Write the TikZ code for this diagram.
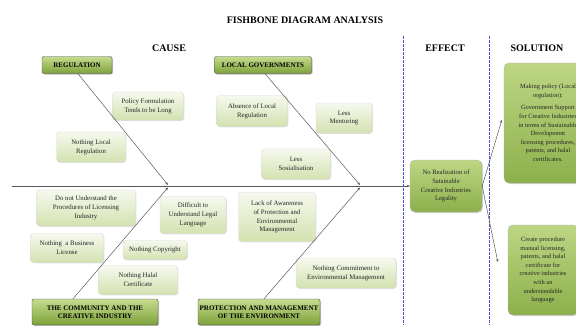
\documentclass[tikz,border=0pt]{standalone}
\usepackage{fontspec}
\setmainfont{Liberation Serif}
\usetikzlibrary{arrows.meta, shadows, positioning}

\definecolor{hdrlight}{HTML}{C6DC8F}
\definecolor{hdrdark}{HTML}{7DA13A}
\definecolor{causelight}{HTML}{F6F9EE}
\definecolor{causedark}{HTML}{D3E2B0}
\definecolor{efflight}{HTML}{BDD684}
\definecolor{effdark}{HTML}{8DB04B}
\definecolor{dashblue}{HTML}{5050D8}

\tikzset{
  header/.style={draw=black!70, rounded corners=2pt, top color=hdrlight, bottom color=hdrdark,
    font=\fontsize{7}{8.5}\selectfont\bfseries, inner sep=1pt,
    drop shadow={shadow xshift=1pt, shadow yshift=-1pt, opacity=0.5}},
  cause/.style={draw=black!15, rounded corners=3pt, top color=causelight, bottom color=causedark,
    font=\fontsize{6.8}{8.8}\selectfont, text=black!85, inner sep=1pt,
    drop shadow={shadow xshift=0.8pt, shadow yshift=-0.8pt, opacity=0.25}},
  effectbox/.style={draw=black!30, rounded corners=5pt, top color=efflight, bottom color=effdark,
    font=\fontsize{6.6}{8.8}\selectfont, text=black!85, inner sep=1pt,
    drop shadow={shadow xshift=1pt, shadow yshift=-1pt, opacity=0.35}},
  heading/.style={font=\fontsize{10}{12}\selectfont\bfseries},
  bone/.style={draw=black!65, line width=0.5pt, -{Stealth[length=3pt, width=2.5pt]}},
  divider/.style={draw=dashblue, line width=1pt, dash pattern=on 2.5pt off 1.5pt}
}

\begin{document}
\begin{tikzpicture}[x=1pt, y=-1pt, align=center]
\useasboundingbox (0,0) rectangle (576,325);

% titles
\node (title) [heading] at (305,20) {FISHBONE DIAGRAM ANALYSIS};
\node (causehd) [heading] at (169,48) {CAUSE};
\node (effecthd) [heading] at (445,48) {EFFECT};
\node (solhd) [heading] at (537,48) {SOLUTION};

% dividers
\coordinate (d1top) at (403,36);
\coordinate (d1bot) at (403,325);
\coordinate (d2top) at (489,36);
\coordinate (d2bot) at (489,325);
\draw[divider] (d1top) -- (d1bot);
\draw[divider] (d2top) -- (d2bot);

% main categories
\node (reg) [header, minimum width=70pt, minimum height=17pt] at (77,65) {REGULATION};
\node (locgov) [header, minimum width=97pt, minimum height=17pt] at (263,65) {LOCAL GOVERNMENTS};
\node (comm) [header, minimum width=126pt, minimum height=26pt] at (95,312) {THE COMMUNITY AND THE\\CREATIVE INDUSTRY};
\node (prot) [header, minimum width=122pt, minimum height=26pt] at (259,312) {PROTECTION AND MANAGEMENT\\OF THE ENVIRONMENT};

% causes
\node (policy) [cause, minimum width=71pt, minimum height=28pt] at (148,106) {Policy Formulation\\Tends to be Long};
\node (noloc) [cause, minimum width=69pt, minimum height=30pt] at (91,147) {Nothing Local\\Regulation};
\node (absence) [cause, minimum width=71pt, minimum height=31pt] at (252,111) {Absence of Local\\Regulation};
\node (mentor) [cause, minimum width=56pt, minimum height=30pt] at (344,118) {Less\\Mentoring};
\node (sosial) [cause, minimum width=69pt, minimum height=30pt] at (296,164) {Less\\Sosialisation};
\node (proced) [cause, minimum width=99pt, minimum height=36pt] at (86,208) {Do not Understand the\\Procedures of Licensing\\Industry};
\node (legal) [cause, minimum width=66pt, minimum height=37pt] at (193,215) {Difficult to\\Understand Legal\\Language};
\node (aware) [cause, minimum width=77pt, minimum height=49pt] at (277,217) {Lack of Awareness\\of Protection and\\Environmental\\Management};
\node (busin) [cause, minimum width=73pt, minimum height=29pt] at (67,248) {Nothing~ a Business\\License};
\node (copyr) [cause, minimum width=64pt, minimum height=19pt] at (155,250) {Nothing Copyright};
\node (halal) [cause, minimum width=79pt, minimum height=29pt] at (138,280) {Nothing Halal\\Certificate};
\node (commit) [cause, minimum width=100pt, minimum height=30pt] at (346,273) {Nothing Commitment to\\Environmental Management};

% effect and solutions
\node (effect) [effectbox, minimum width=72pt, minimum height=52pt] at (446,186) {No Realization of\\Satainable\\Creative Industries\\Legality};
\node (sol1) [effectbox, minimum width=88pt, minimum height=120pt, font=\fontsize{6.4}{8.6}\selectfont] at (548,123)
  {Making policy (Local\\regulation):\\[4pt]Government Support\\for Creative Industries\\in terms of Sustainable\\Developemnt\\licensing procedures,\\patents, and halal\\certificates.};
\node (sol2) [effectbox, minimum width=70pt, minimum height=90pt, font=\fontsize{6.4}{8.6}\selectfont] at (543,270)
  {Create procedure\\manual licensing,\\patents, and halal\\certificate for\\creative industries\\with an\\understandable\\language};

% spine and bones
\coordinate (tail) at (12,186);
\coordinate (j1up) at (168,185);
\coordinate (j1dn) at (168,187.5);
\coordinate (j2up) at (360,185);
\coordinate (j2dn) at (360,187.5);
\draw[bone] (tail) -- (effect);
\draw[bone] ([xshift=1pt]reg.south) -- (j1up);
\draw[bone] ([xshift=-22pt]comm.north) -- (j1dn);
\draw[bone] ([xshift=2pt]locgov.south) -- (j2up);
\draw[bone] ([xshift=5pt]prot.north) -- (j2dn);
\draw[bone] (effect.east) -- ([xshift=-2pt, yshift=3pt]sol1.west);
\draw[bone] (effect.east) -- ([xshift=-10pt, yshift=8pt]sol2.west);
\end{tikzpicture}
\end{document}
